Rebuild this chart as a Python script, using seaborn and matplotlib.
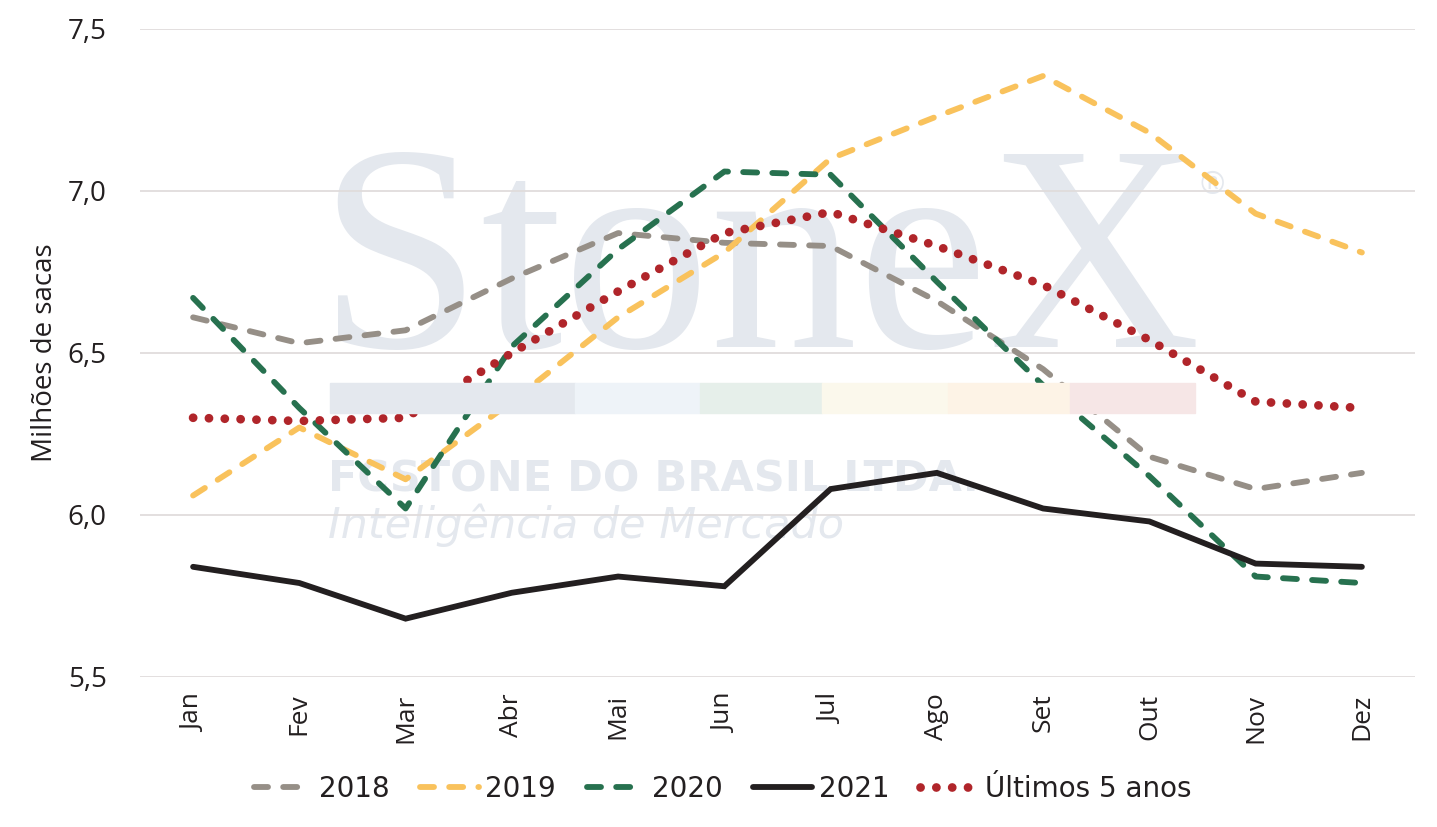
import numpy as np
import pandas as pd
import matplotlib
matplotlib.use("Agg")
import matplotlib.pyplot as plt
from matplotlib.patches import Rectangle
import seaborn as sns

months = ["Jan", "Fev", "Mar", "Abr", "Mai", "Jun", "Jul", "Ago", "Set", "Out", "Nov", "Dez"]
s2018 = [6.61, 6.53, 6.57, 6.73, 6.87, 6.84, 6.83, 6.66, 6.45, 6.18, 6.08, 6.13]
s2019 = [6.06, 6.27, 6.11, 6.35, 6.61, 6.81, 7.10, 7.23, 7.355, 7.18, 6.93, 6.81]
s2020 = [6.67, 6.33, 6.02, 6.52, 6.82, 7.06, 7.05, 6.72, 6.40, 6.12, 5.81, 5.79]
s2021 = [5.84, 5.79, 5.68, 5.76, 5.81, 5.78, 6.08, 6.13, 6.02, 5.98, 5.85, 5.84]
s5anos = [6.30, 6.29, 6.30, 6.50, 6.69, 6.87, 6.935, 6.83, 6.71, 6.54, 6.35, 6.33]
yticks = [5.5, 6.0, 6.5, 7.0, 7.5]
ytick_labels = ["5,5", "6,0", "6,5", "7,0", "7,5"]

sns.set_theme(style="white")
plt.rcParams['font.family'] = ['Open Sans', 'DejaVu Sans']

fig = plt.figure(figsize=(14.37, 8.27), dpi=100)
ax = fig.add_axes([0.0974, 0.1814, 0.8873, 0.7836])

# watermark
wm = "#e4e8ee"
ax.text(0.528, 0.58, "StoneX", transform=fig.transFigure, fontsize=212, color=wm,
        family="Liberation Serif", ha="center", va="baseline", zorder=0)
ax.text(0.835, 0.775, "®", transform=fig.transFigure, fontsize=22, color=wm, ha="left", va="center", zorder=0)
strip_cols = ["#e4e8ee", "#eef3f8", "#e6efea", "#fbf8ec", "#fdf3e6", "#f6e6e6"]
edges = [330, 575, 700, 822, 948, 1070, 1195]
for i, c in enumerate(strip_cols):
    fig.patches.append(Rectangle((edges[i] / 1437, 1 - 413 / 827), (edges[i + 1] - edges[i]) / 1437, 30 / 827,
                                 transform=fig.transFigure, color=c, zorder=0))
ax.text(328 / 1437, 1 - 491 / 827, "FCSTONE DO BRASIL LTDA.", transform=fig.transFigure, fontsize=31,
        weight="bold", family="DejaVu Sans", color=wm, ha="left", va="baseline", zorder=0)
ax.text(328 / 1437, 1 - 538 / 827, "Inteligência de Mercado", transform=fig.transFigure, fontsize=31,
        style="italic", weight="light", family="DejaVu Sans", color=wm, ha="left", va="baseline", zorder=0)

x = np.arange(len(months))
dash = (0, (2.4, 2.6))
series = [
    ("2018", s2018, "#968f87", dash),
    ("2019", s2019, "#f9c25c", dash),
    ("2020", s2020, "#27714f", dash),
    ("2021", s2021, "#231f20", "-"),
]
for name, vals, col, ls in series:
    sns.lineplot(x=x, y=vals, ax=ax, color=col, linewidth=4.2, linestyle=ls, label=name,
                 dash_capstyle="round", solid_capstyle="round", solid_joinstyle="miter", zorder=3)
sns.lineplot(x=x, y=s5anos, ax=ax, color="#b0252a", linewidth=6.3, linestyle=(0, (0.01, 1.8)),
             dash_capstyle="round", label="Últimos 5 anos", zorder=3)

ax.set_xlim(-0.5, 11.5)
ax.set_ylim(5.5, 7.5)
ax.set_yticks(yticks)
ax.set_yticklabels(ytick_labels, fontsize=20, color="#231f20")
ax.set_xticks(x)
ax.set_xticklabels(months, rotation=90, fontsize=19, color="#231f20")
ax.tick_params(axis="y", length=0, pad=24)
ax.tick_params(axis="x", length=0, pad=12)
ax.grid(axis="y", color="#e0dcdc", linewidth=1.3, zorder=1)
ax.set_axisbelow(True)
for s in ax.spines.values():
    s.set_visible(False)
ax.set_xlabel("")
ax.set_ylabel("Milhões de sacas", fontsize=20, color="#231f20", labelpad=6)
ax.patch.set_alpha(0)

leg = ax.legend(loc="center", bbox_to_anchor=(0.5 - 0.043, (1 - 789 / 827 - 0.1814) / 0.7836), ncol=5,
                frameon=False, prop={"family": "DejaVu Sans", "size": 20}, handlelength=2.1,
                columnspacing=1.1, handletextpad=0.25, bbox_transform=ax.transAxes)
for t in leg.get_texts():
    t.set_color("#231f20")

fig.savefig("out.png", dpi=100)
